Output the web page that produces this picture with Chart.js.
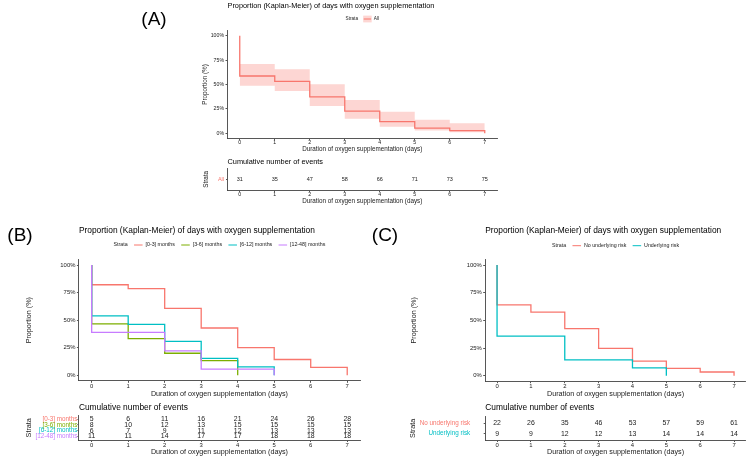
<!DOCTYPE html>
<html>
<head>
<meta charset="utf-8">
<script src="https://cdn.jsdelivr.net/npm/chart.js@4.4.0/dist/chart.umd.min.js"></script>
<style>
  html, body { margin: 0; padding: 0; background: #fff; }
  body { width: 750px; height: 458px; position: relative; overflow: hidden; }
  canvas { position: absolute; }
</style>
</head>
<body>
<canvas id="aKm"></canvas>
<canvas id="aTab"></canvas>
<canvas id="bKm"></canvas>
<canvas id="bTab"></canvas>
<canvas id="cKm"></canvas>
<canvas id="cTab"></canvas>
<script>
// ---- data ----
const days = [0, 1, 2, 3, 4, 5, 6, 7];
const propTicks = [0, 25, 50, 75, 100];
const propTickLabels = ['0%', '25%', '50%', '75%', '100%'];

// (A) all children
const allGroups = ['All'];
const allSurv = [58.7, 53.3, 37.3, 22.7, 12.0, 5.3, 2.7, 0];
const allUpper = [71.0, 65.5, 50.2, 34.0, 22.0, 14.0, 10.2, 10.2];
const allLower = [48.8, 43.3, 28.0, 15.0, 6.8, 3.0, 1.0, 1.0];
const allEvents = [31, 35, 47, 58, 66, 71, 73, 75];

// (B) by age group
const ageGroups = ['[0-3] months', '[3-6] months', '[6-12] months', '[12-48] months'];
const surv0to3 = [82.1, 78.6, 60.7, 42.9, 25.0, 14.3, 7.1, 0];
const surv3to6 = [46.7, 33.3, 20.0, 13.3, 0];
const surv6to12 = [53.8, 46.2, 30.8, 15.4, 7.7, 0];
const surv12to48 = [38.9, 38.9, 22.2, 5.6, 5.6, 0];
const events0to3 = [5, 6, 11, 16, 21, 24, 26, 28];
const events3to6 = [8, 10, 12, 13, 15, 15, 15, 15];
const events6to12 = [6, 7, 9, 11, 12, 13, 13, 13];
const events12to48 = [11, 11, 14, 17, 17, 18, 18, 18];

// (C) by underlying risk
const riskGroups = ['No underlying risk', 'Underlying risk'];
const survNoRisk = [63.9, 57.4, 42.6, 24.6, 13.1, 6.6, 3.3, 0];
const survRisk = [35.7, 35.7, 14.3, 14.3, 7.1, 0];
const eventsNoRisk = [22, 26, 35, 46, 53, 57, 59, 61];
const eventsRisk = [9, 9, 12, 12, 13, 14, 14, 14];

// ---- look ----
const FONT = '"Liberation Sans", Arial, Helvetica, sans-serif';
const INK = '#1a1a1a';
const AXIS = '#444';
const RED = '#F8766D', GREEN = '#7CAE00', CYAN = '#00BFC4', PURPLE = '#C77CFF';
const BAND = 'rgba(248, 118, 109, 0.3)';

const fontBig = { title: 8.4, axisTitle: 7.2, tick: 5.9, legend: 5.3, count: 6.9, row: 6.3, tag: 19 };
const fontA = { title: 7.35, axisTitle: 6.3, tick: 5.2, legend: 4.7, count: 5.5, row: 5.5, tag: 19 };

// page positions (px) of each canvas and its plot panel
const layout = {
  aKm:  { box: { x: 130, y: 0, w: 375, h: 157 }, area: { l: 227.5, r: 497, t: 30.8, b: 138.2 },
          titleY: 5.7, legendY: 19, yTitleX: 205.7, tickY: 142.5, xTitleY: 149.3, tag: { text: '(A)', x: 154, y: 20 } },
  aTab: { box: { x: 130, y: 157, w: 375, h: 49 }, area: { l: 227.5, r: 497, t: 168.6, b: 190 },
          titleY: 162, yTitleX: 206.7, tickY: 194.3, xTitleY: 201.7, rowPad: 2 },
  bKm:  { box: { x: 0, y: 215, w: 365, h: 185 }, area: { l: 78.9, r: 360, t: 259.5, b: 380.8 },
          titleY: 230.7, legendY: 245, yTitleX: 29.3, tickY: 386, xTitleY: 394.3, tag: { text: '(B)', x: 20, y: 236 } },
  bTab: { box: { x: 0, y: 400, w: 365, h: 58 }, area: { l: 78.9, r: 360, t: 415.6, b: 440 },
          titleY: 407.3, yTitleX: 29, tickY: 445.3, xTitleY: 452.3, rowPad: 0 },
  cKm:  { box: { x: 365, y: 215, w: 385, h: 185 }, area: { l: 485.2, r: 745.9, t: 259.5, b: 381.2 },
          titleY: 230.7, legendY: 245.7, yTitleX: 414.3, tickY: 385.7, xTitleY: 394.3, tag: { text: '(C)', x: 385, y: 236 } },
  cTab: { box: { x: 365, y: 400, w: 385, h: 58 }, area: { l: 485.2, r: 745.9, t: 416.3, b: 440 },
          titleY: 407.3, yTitleX: 413, tickY: 445.5, xTitleY: 452.5, rowPad: 13.5 }
};

Chart.defaults.font.family = FONT;
Chart.defaults.color = INK;

// ggplot-like legend: "Strata" then key + label for each group
const strataLegend = {
  id: 'strataLegend',
  afterDraw(chart, args, o) {
    if (!o || !o.items) return;
    const { ctx, chartArea } = chart;
    ctx.save();
    ctx.font = o.size + 'px ' + FONT;
    ctx.textBaseline = 'middle';
    ctx.textAlign = 'left';
    const keyW = o.size * 1.8, sp = o.size * 0.45, gap = o.size * 1.1;
    const head = ctx.measureText('Strata').width;
    const widths = o.items.map(it => ctx.measureText(it.text).width);
    let total = head + gap;
    widths.forEach((w, i) => { total += keyW + sp + w + (i < widths.length - 1 ? gap : 0); });
    let x = (chartArea.left + chartArea.right) / 2 - total / 2;
    const y = o.y;
    ctx.fillStyle = INK;
    ctx.fillText('Strata', x, y);
    x += head + gap;
    o.items.forEach((it, i) => {
      if (it.band) {
        ctx.fillStyle = it.band;
        ctx.fillRect(x, y - keyW * 0.4, keyW, keyW * 0.8);
      }
      ctx.strokeStyle = it.color;
      ctx.lineWidth = 1;
      ctx.beginPath();
      ctx.moveTo(x + 0.5, y);
      ctx.lineTo(x + keyW - 0.5, y);
      ctx.stroke();
      x += keyW + sp;
      ctx.fillStyle = INK;
      ctx.fillText(it.text, x, y);
      x += widths[i] + gap;
    });
    ctx.restore();
  }
};

const panelTag = {
  id: 'panelTag',
  afterDraw(chart, args, o) {
    if (!o || !o.text) return;
    const ctx = chart.ctx;
    ctx.save();
    ctx.font = o.size + 'px ' + FONT;
    ctx.fillStyle = '#000';
    ctx.textAlign = 'center';
    ctx.textBaseline = 'middle';
    ctx.fillText(o.text, o.x, o.y);
    ctx.restore();
  }
};

// numbers of the risk table, drawn at each point's scale position
const countLabels = {
  id: 'countLabels',
  afterDatasetsDraw(chart, args, o) {
    if (!o || !o.size) return;
    const ctx = chart.ctx;
    ctx.save();
    ctx.font = o.size + 'px ' + FONT;
    ctx.fillStyle = INK;
    ctx.textAlign = 'center';
    ctx.textBaseline = 'middle';
    chart.data.datasets.forEach((ds, i) => {
      chart.getDatasetMeta(i).data.forEach((pt, j) => {
        ctx.fillText(String(ds.counts[j]), pt.x, pt.y);
      });
    });
    ctx.restore();
  }
};

Chart.register(strataLegend, panelTag, countLabels);

function place(id, box) {
  const cv = document.getElementById(id);
  cv.width = box.w;
  cv.height = box.h;
  cv.style.left = box.x + 'px';
  cv.style.top = box.y + 'px';
  return cv;
}

function titleOpts(text, L, f) {
  const tp = L.titleY - L.box.y - f.title / 2;
  const top = L.area.t - L.box.y;
  return {
    display: true, text: text, align: 'start', fullSize: false, color: '#000',
    font: { size: f.title, weight: 'normal', lineHeight: 1 },
    padding: { top: tp, bottom: top - tp - f.title }
  };
}

function daysAxis(L, f) {
  return {
    type: 'linear', min: -0.35, max: 7.35,
    afterBuildTicks: s => { s.ticks = days.map(v => ({ value: v })); },
    afterFit: s => { s.height = L.box.y + L.box.h - L.area.b; },
    border: { display: true, color: AXIS, width: 0.9 },
    grid: { drawOnChartArea: false, drawTicks: true, tickLength: 2, color: AXIS, lineWidth: 0.9 },
    ticks: {
      color: INK, autoSkip: false, maxRotation: 0,
      font: { size: f.tick, lineHeight: 1 },
      padding: Math.max(0, L.tickY - L.area.b - 2 - f.tick / 2)
    },
    title: {
      display: true, text: 'Duration of oxygen supplementation (days)', color: INK,
      font: { size: f.axisTitle, lineHeight: 1 },
      padding: { top: 0, bottom: L.box.y + L.box.h - L.xTitleY - f.axisTitle / 2 }
    }
  };
}

function leftTitle(text, L, f) {
  return {
    display: true, text: text, color: INK,
    font: { size: f.axisTitle, lineHeight: 1 },
    padding: { top: L.yTitleX - L.box.x - f.axisTitle / 2, bottom: 0 }
  };
}

function stepPoints(surv) {
  return [{ x: 0, y: 100 }].concat(surv.map((v, i) => ({ x: days[i], y: v })));
}

function curve(surv, color, i) {
  return {
    data: stepPoints(surv), borderColor: color, borderWidth: 1.3,
    pointRadius: 0, stepped: 'before', fill: false, order: -i
  };
}

function bandEdge(vals, fill) {
  return {
    data: vals.map((v, i) => ({ x: days[i], y: v })), order: 0,
    borderWidth: 0, borderColor: 'rgba(0,0,0,0)', pointRadius: 0, stepped: 'before',
    fill: fill, backgroundColor: BAND
  };
}

function kmChart(id, L, f, datasets, legendItems) {
  const cv = place(id, L.box);
  return new Chart(cv, {
    type: 'line',
    data: { datasets: datasets },
    options: {
      responsive: false, animation: false, events: [],
      layout: { padding: { left: 0, top: 0, bottom: 0, right: L.box.x + L.box.w - L.area.r } },
      plugins: {
        legend: { display: false },
        tooltip: { enabled: false },
        title: titleOpts('Proportion (Kaplan-Meier) of days with oxygen supplementation', L, f),
        strataLegend: { y: L.legendY - L.box.y, size: f.legend, items: legendItems },
        panelTag: { text: L.tag.text, x: L.tag.x - L.box.x, y: L.tag.y - L.box.y, size: f.tag }
      },
      scales: {
        x: daysAxis(L, f),
        y: {
          type: 'linear', min: -5, max: 105,
          afterBuildTicks: s => { s.ticks = propTicks.map(v => ({ value: v })); },
          afterFit: s => { s.width = L.area.l - L.box.x; },
          border: { display: true, color: AXIS, width: 0.9 },
          grid: { drawOnChartArea: false, drawTicks: true, tickLength: 2, color: AXIS, lineWidth: 0.9 },
          ticks: {
            color: INK, padding: 1.5, autoSkip: false, font: { size: f.tick, lineHeight: 1 },
            callback: v => propTickLabels[propTicks.indexOf(v)]
          },
          title: leftTitle('Proportion (%)', L, f)
        }
      }
    }
  });
}

function tableChart(id, L, f, groups, colors, counts) {
  const cv = place(id, L.box);
  const n = groups.length;
  return new Chart(cv, {
    type: 'scatter',
    data: {
      datasets: groups.map((g, i) => ({
        label: g, counts: counts[i], pointRadius: 0,
        data: days.map(d => ({ x: d, y: n - i }))
      }))
    },
    options: {
      responsive: false, animation: false, events: [],
      layout: { padding: { left: 0, top: 0, bottom: 0, right: L.box.x + L.box.w - L.area.r } },
      plugins: {
        legend: { display: false },
        tooltip: { enabled: false },
        title: titleOpts('Cumulative number of events', L, f),
        countLabels: { size: f.count }
      },
      scales: {
        x: daysAxis(L, f),
        y: {
          type: 'linear', min: 0.4, max: n + 0.6,
          afterBuildTicks: s => { s.ticks = groups.map((g, i) => ({ value: n - i })); },
          afterFit: s => { s.width = L.area.l - L.box.x; },
          border: { display: true, color: AXIS, width: 0.9 },
          grid: { drawOnChartArea: false, drawTicks: true, tickLength: 1.5, color: AXIS, lineWidth: 0.9 },
          ticks: {
            padding: L.rowPad, autoSkip: false, font: { size: f.row, lineHeight: 1 },
            color: c => colors[n - c.tick.value],
            callback: v => groups[n - v]
          },
          title: leftTitle('Strata', L, f)
        }
      }
    }
  });
}

// (A) all children, with confidence band
kmChart('aKm', layout.aKm, fontA, [
  curve(allSurv, RED, 1),
  bandEdge(allUpper, false),
  bandEdge(allLower, '-1')
], [{ text: allGroups[0], color: RED, band: BAND }]);
tableChart('aTab', layout.aTab, fontA, allGroups, [RED], [allEvents]);

// (B) age groups
const ageColors = [RED, GREEN, CYAN, PURPLE];
kmChart('bKm', layout.bKm, fontBig,
  [surv0to3, surv3to6, surv6to12, surv12to48].map((s, i) => curve(s, ageColors[i], i)),
  ageGroups.map((g, i) => ({ text: g, color: ageColors[i] })));
tableChart('bTab', layout.bTab, fontBig, ageGroups, ageColors,
  [events0to3, events3to6, events6to12, events12to48]);

// (C) underlying risk
const riskColors = [RED, CYAN];
kmChart('cKm', layout.cKm, fontBig,
  [survNoRisk, survRisk].map((s, i) => curve(s, riskColors[i], i)),
  riskGroups.map((g, i) => ({ text: g, color: riskColors[i] })));
tableChart('cTab', layout.cTab, fontBig, riskGroups, riskColors, [eventsNoRisk, eventsRisk]);
</script>
</body>
</html>
